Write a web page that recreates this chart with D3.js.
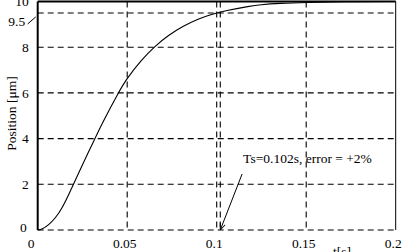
<!DOCTYPE html>
<html>
<head>
<meta charset="utf-8">
<script src="https://cdn.jsdelivr.net/npm/d3@7"></script>
<style>
  body { margin: 0; background: #fff; }
  svg { display: block; }
  svg text { font-family: "Liberation Serif", "Times New Roman", serif; }
</style>
</head>
<body>
<div class="chart"></div>
<script>
// Step response
const timeValues = [0, 0.0024, 0.0061, 0.0098, 0.0136, 0.0173, 0.0192, 0.022, 0.0316, 0.0372,
  0.045, 0.0497, 0.058, 0.0655, 0.073, 0.0813, 0.09, 0.0963, 0.105, 0.1187, 0.124, 0.135, 0.15, 0.17, 0.2];
const positionValues = [0, 0.03, 0.22, 0.51, 0.95, 1.55, 1.87, 2.35, 3.95, 4.85,
  6.0, 6.62, 7.45, 8.05, 8.52, 8.93, 9.25, 9.42, 9.6, 9.8, 9.86, 9.92, 9.96, 9.99, 10];

const xTicks = [0, 0.05, 0.1, 0.15, 0.2];
const yTicks = [0, 2, 4, 6, 8, 10];
const xGrid = [0.05, 0.1, 0.15];
const yGrid = [0, 2, 4, 6, 8];

// settling mark
const bandLevel = 9.5;
const settleTime = 0.102;
const settleText = "Ts=0.102s, error = +2%";
const arrowFrom = [0.1142, 2.45];

const W = 404, H = 252;
const margin = { top: 1.5, right: 8.3, bottom: 22, left: 37.7 };
const width = W - margin.left - margin.right;
const height = H - margin.top - margin.bottom;
const fs = 13.5;

const svgRoot = d3.select(".chart").append("svg")
  .attr("width", W)
  .attr("height", H);

svgRoot.append("defs").append("marker")
  .attr("id", "head")
  .attr("viewBox", "0 0 10 10")
  .attr("refX", 10).attr("refY", 5)
  .attr("markerWidth", 7).attr("markerHeight", 7)
  .attr("orient", "auto")
  .append("path")
  .attr("d", "M0,1 L10,5 L0,9")
  .attr("fill", "none")
  .attr("stroke", "#000")
  .attr("stroke-width", 1.3);

const svg = svgRoot.append("g")
  .attr("transform", `translate(${margin.left},${margin.top})`);

const x = d3.scaleLinear().domain([0, 0.2]).range([0, width]);
const y = d3.scaleLinear().domain([0, 10]).range([height, 0]);

const dash = "6,4";

// grid
svg.selectAll(".hgrid")
  .data(yGrid.concat([bandLevel]))
  .enter().append("line")
  .attr("x1", 0).attr("x2", width)
  .attr("y1", d => y(d)).attr("y2", d => y(d))
  .attr("stroke", "#000").attr("stroke-width", 1.1)
  .attr("stroke-dasharray", dash);

svg.selectAll(".vgrid")
  .data(xGrid.concat([settleTime]))
  .enter().append("line")
  .attr("x1", d => x(d)).attr("x2", d => x(d))
  .attr("y1", 0).attr("y2", height)
  .attr("stroke", "#000").attr("stroke-width", 1.1)
  .attr("stroke-dasharray", dash);

// frame
svg.append("line").attr("x1", 0).attr("x2", 0).attr("y1", 0).attr("y2", height)
  .attr("stroke", "#000").attr("stroke-width", 2);
svg.append("line").attr("x1", 0).attr("x2", width).attr("y1", 0).attr("y2", 0)
  .attr("stroke", "#000").attr("stroke-width", 2);
svg.append("line").attr("x1", width).attr("x2", width).attr("y1", 0).attr("y2", height)
  .attr("stroke", "#000").attr("stroke-width", 1);

// axes
const xAxis = svg.append("g")
  .attr("transform", `translate(0,${height})`)
  .call(d3.axisBottom(x).tickValues(xTicks).tickSize(0).tickPadding(8)
    .tickFormat(d => d === 0 ? "0" : d3.format("~g")(d)));
xAxis.attr("font-family", null).attr("font-size", fs);
xAxis.select(".domain").remove();
xAxis.selectAll("text")
  .attr("fill", "#000")
  .attr("dx", d => d === 0 ? -7 : -3);

const yAxis = svg.append("g")
  .call(d3.axisLeft(y).tickValues(yTicks).tickSize(0).tickPadding(9));
yAxis.attr("font-family", null).attr("font-size", fs);
yAxis.select(".domain").remove();
yAxis.selectAll("text")
  .attr("fill", "#000")
  .attr("dy", d => d === 0 ? "0.1em" : "0.32em")
  .attr("dx", d => d === 0 ? -2 : 0);

// 9.5 label with leader
svg.append("text")
  .attr("x", -12.5).attr("y", y(bandLevel) + 9)
  .attr("dy", "0.32em")
  .attr("text-anchor", "end")
  .attr("font-size", fs)
  .text(d3.format("~g")(bandLevel));
svg.append("line")
  .attr("x1", -10).attr("y1", y(bandLevel) + 11)
  .attr("x2", -2).attr("y2", y(bandLevel) + 4)
  .attr("stroke", "#000").attr("stroke-width", 1);

// response curve
const line = d3.line()
  .x((d, i) => x(timeValues[i]))
  .y(d => y(d))
  .curve(d3.curveBasis);
svg.append("path")
  .datum(positionValues)
  .attr("d", line)
  .attr("fill", "none")
  .attr("stroke", "#000")
  .attr("stroke-width", 1.1);

// annotation
svg.append("line")
  .attr("x1", x(arrowFrom[0])).attr("y1", y(arrowFrom[1]))
  .attr("x2", x(settleTime)).attr("y2", y(0))
  .attr("stroke", "#000").attr("stroke-width", 1)
  .attr("marker-end", "url(#head)");
svg.append("text")
  .attr("x", x(arrowFrom[0]) + 1).attr("y", y(arrowFrom[1]) - 11)
  .attr("font-size", fs)
  .text(settleText);

// axis titles
svg.append("text")
  .attr("x", x(0.17)).attr("y", height + 26)
  .attr("text-anchor", "middle")
  .attr("font-size", fs)
  .text("t[s]");
svg.append("text")
  .attr("transform", `translate(${-margin.left + 16},${y(5.1)}) rotate(-90)`)
  .attr("text-anchor", "middle")
  .attr("font-size", fs)
  .text("Position [μm]");
</script>
</body>
</html>
